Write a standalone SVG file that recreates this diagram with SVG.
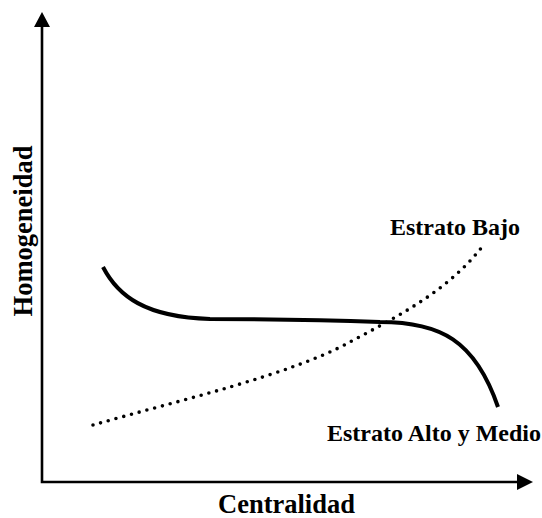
<svg xmlns="http://www.w3.org/2000/svg" width="542" height="518" viewBox="0 0 542 518">
<style>
.axis{stroke:#000;stroke-width:2.6;fill:none}
.head{fill:#000;stroke:none}
.solid{stroke:#000;stroke-width:4;fill:none;stroke-linecap:butt}
.dotted{stroke:#000;stroke-width:3.6;fill:none;stroke-linecap:round;stroke-dasharray:0 8}
.lbl{font-family:"Liberation Serif","Times New Roman",serif;font-weight:bold;fill:#000}
</style>
<rect width="542" height="518" fill="#fff"/>
<g id="axes">
<path class="axis" d="M42,26 L42,482 L518,482"/>
<polygon class="head" points="42,12 34,27 50,27"/>
<polygon class="head" points="533,482 517,474 517,490"/>
</g>
<g id="connectors">
<path id="estrato-alto-medio-curve" class="solid" d="M103,267 C118,296 145,317 210,319 C280,319 330,320 380,322 C440,322 475,340 498,407"/>
<path id="estrato-bajo-curve" class="dotted" d="M93,425 C180,400 290,375 350,342 C400,315 450,290 485,243"/>
</g>
<g id="label-y"><text class="lbl" font-size="26.5" text-anchor="middle" transform="translate(32,231) rotate(-90)">Homogeneidad</text></g>
<g id="label-x"><text class="lbl" font-size="26.5" x="218" y="513">Centralidad</text></g>
<g id="label-bajo"><text class="lbl" font-size="24" x="390" y="235">Estrato Bajo</text></g>
<g id="label-alto"><text class="lbl" font-size="24" x="327" y="441">Estrato Alto y Medio</text></g>
</svg>
